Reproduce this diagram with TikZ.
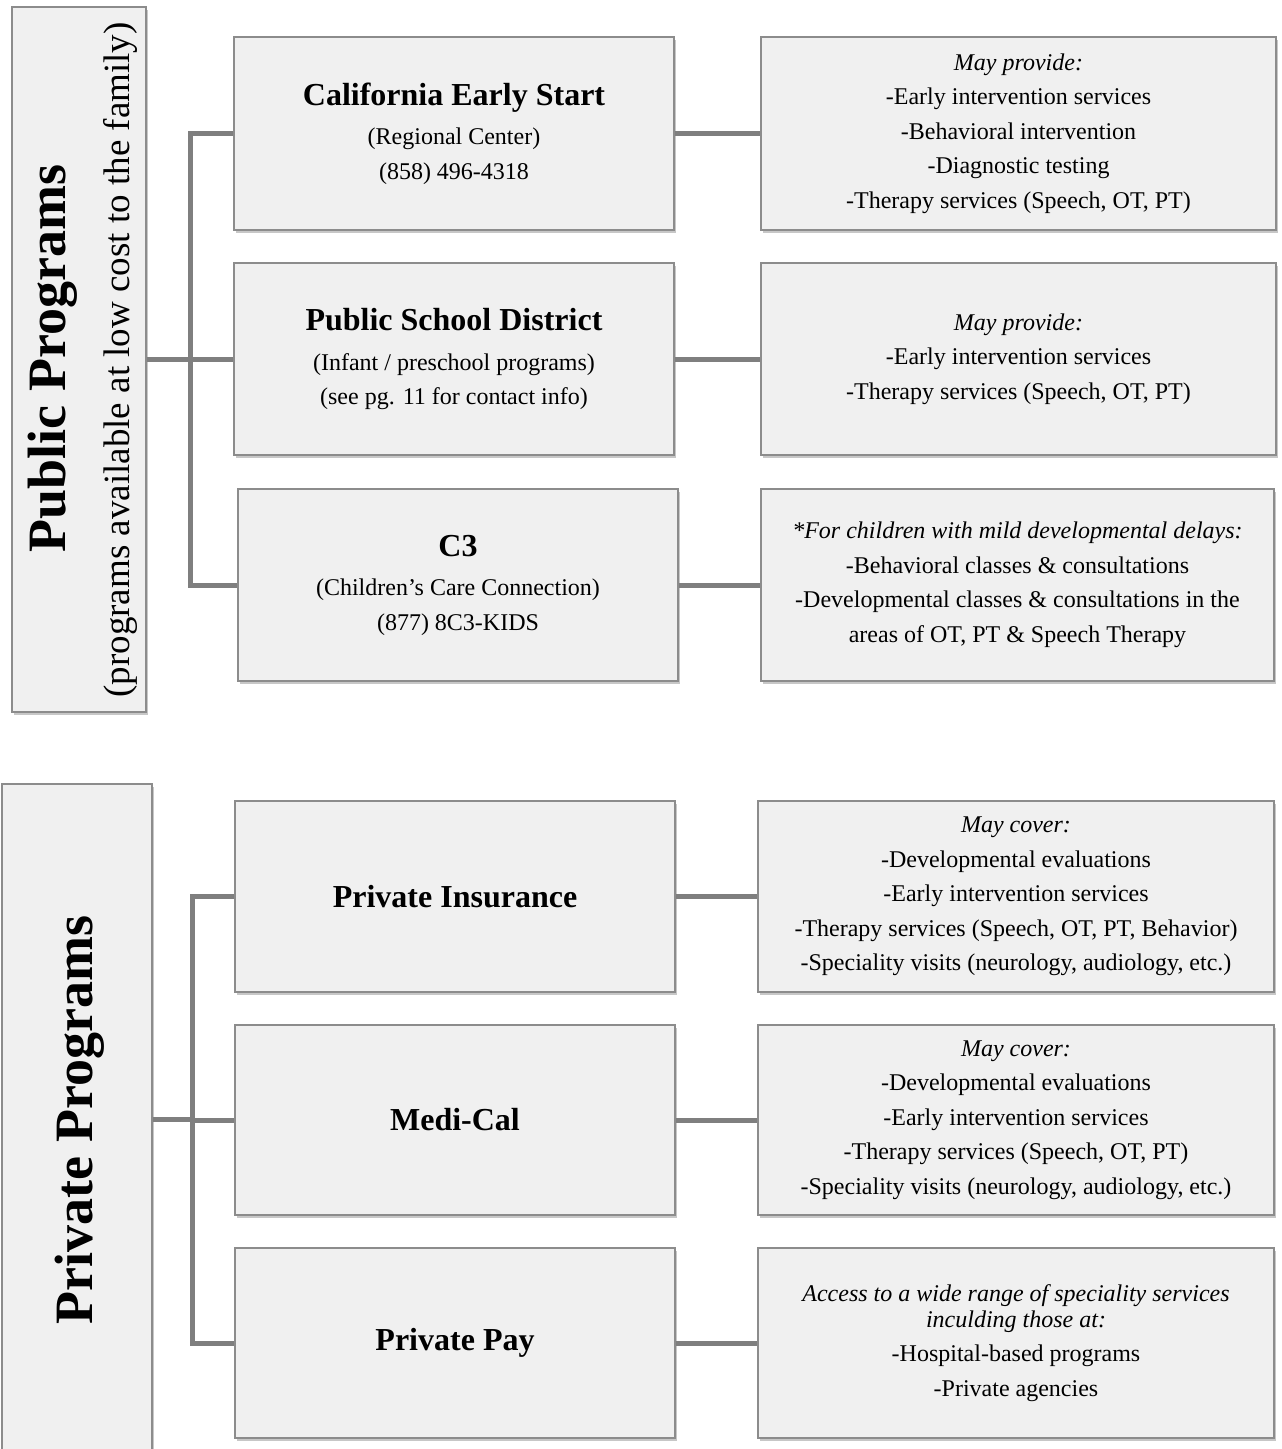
\documentclass[tikz,border=0pt]{standalone}
\usepackage{fontspec}
\setmainfont{Liberation Serif}
\usetikzlibrary{shadows}
\definecolor{boxfill}{HTML}{F0F0F0}
\definecolor{boxline}{HTML}{8C8C8C}
\definecolor{conn}{HTML}{7F7F7F}
\newcommand{\ttl}[1]{{\fontsize{32}{34.5}\selectfont\bfseries #1}}
\tikzset{
  box/.style={draw=boxline, fill=boxfill, line width=1.5pt, inner sep=0pt,
    align=center, font=\fontsize{24}{34.5}\selectfont,
    general shadow={shadow xshift=2pt, shadow yshift=-2.5pt, fill=black, opacity=0.22}},
  connector/.style={draw=conn, line width=5pt},
}
\begin{document}
\begin{tikzpicture}[x=1pt, y=-1pt]
\useasboundingbox[fill=white] (0,0) rectangle (1282,1449);

% left category boxes
\node[box, minimum width=134pt, minimum height=705pt] (pub) at (79,359.5) {};
\node[box, minimum width=150pt, minimum height=676pt] (priv) at (77,1122) {};
\node[rotate=90, anchor=base, font=\fontsize{54}{60}\selectfont\bfseries] (pubtitle) at (65,358.5) {Public Programs};
\node[rotate=90, anchor=base, font=\fontsize{37}{40}\selectfont] (pubsub) at (129,360) {(programs available at low cost to the family)};
\node[rotate=90, anchor=base, font=\fontsize{54}{60}\selectfont\bfseries] (privtitle) at (92,1120) {Private Programs};

% public middle boxes
\node[box, minimum width=440pt, minimum height=193pt] (ces) at (454,133.5)
  {\ttl{California Early Start}\\[5pt] (Regional Center)\\ (858) 496-4318};
\node[box, minimum width=440pt, minimum height=192pt] (psd) at (454,359)
  {\ttl{Public School District}\\[5pt] (Infant / preschool programs)\\ (see pg. 11 for contact info)};
\node[box, minimum width=440pt, minimum height=192pt] (c3) at (458,585)
  {\ttl{C3}\\[5pt] (Children's Care Connection)\\ (877) 8C3-KIDS};

% public right boxes
\node[box, minimum width=515pt, minimum height=193pt] (r1) at (1018.5,133.5)
  {\textit{May provide:}\\ -Early intervention services\\ -Behavioral intervention\\ -Diagnostic testing\\ -Therapy services (Speech, OT, PT)};
\node[box, minimum width=515pt, minimum height=192pt] (r2) at (1018.5,359)
  {\textit{May provide:}\\ -Early intervention services\\ -Therapy services (Speech, OT, PT)};
\node[box, minimum width=513pt, minimum height=192pt] (r3) at (1017.5,585)
  {\textit{*For children with mild developmental delays:}\\ -Behavioral classes \& consultations\\ -Developmental classes \& consultations in the\\ areas of OT, PT \& Speech Therapy};

% private middle boxes
\node[box, minimum width=440pt, minimum height=191pt] (pi) at (455,896.5) {\ttl{Private Insurance}};
\node[box, minimum width=440pt, minimum height=190pt] (mc) at (455,1120) {\ttl{Medi-Cal}};
\node[box, minimum width=440pt, minimum height=190pt] (pp) at (455,1343) {\ttl{Private Pay}};

% private right boxes
\node[box, minimum width=516pt, minimum height=191pt] (r4) at (1016,896.5)
  {\textit{May cover:}\\ -Developmental evaluations\\ -Early intervention services\\ -Therapy services (Speech, OT, PT, Behavior)\\ -Speciality visits (neurology, audiology, etc.)};
\node[box, minimum width=516pt, minimum height=190pt] (r5) at (1016,1120)
  {\textit{May cover:}\\ -Developmental evaluations\\ -Early intervention services\\ -Therapy services (Speech, OT, PT)\\ -Speciality visits (neurology, audiology, etc.)};
\node[box, minimum width=516pt, minimum height=190pt] (r6) at (1016,1343)
  {\textit{Access to a wide range of speciality services}\\[-9pt] \textit{inculding those at:}\\ -Hospital-based programs\\ -Private agencies};

% public connectors
\coordinate (j1) at (190,359);
\draw[connector] (pub.east |- j1) -- (j1);
\draw[connector] (ces.west) -| (j1);
\draw[connector] (c3.west) -| (j1);
\draw[connector] (psd.west) -- (psd.west -| j1);
\draw[connector] (ces.east) -- (r1.west);
\draw[connector] (psd.east) -- (r2.west);
\draw[connector] (c3.east) -- (r3.west);

% private connectors
\coordinate (j2) at (192,1119);
\draw[connector] (priv.east |- j2) -- (j2);
\draw[connector] (pi.west) -| (j2);
\draw[connector] (pp.west) -| (j2);
\draw[connector] (mc.west) -- (mc.west -| j2);
\draw[connector] (pi.east) -- (r4.west);
\draw[connector] (mc.east) -- (r5.west);
\draw[connector] (pp.east) -- (r6.west);
\end{tikzpicture}
\end{document}
